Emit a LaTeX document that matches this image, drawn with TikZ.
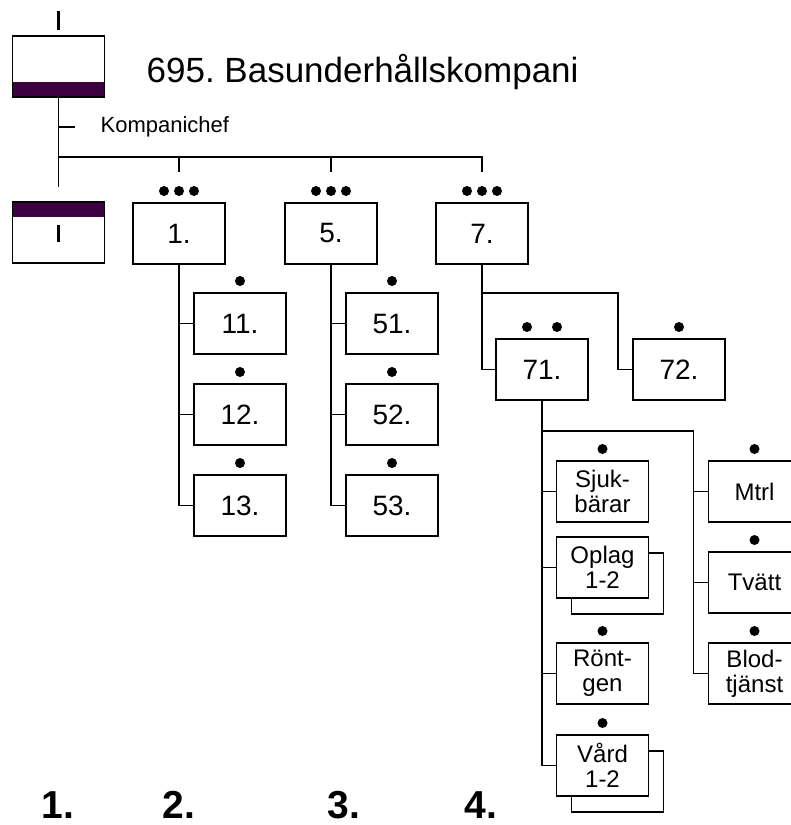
\documentclass[tikz,border=0pt]{standalone}
\usepackage{fontspec}
\setmainfont{Liberation Sans}
\usetikzlibrary{positioning,shadows}
\definecolor{myPurple}{RGB}{61,0,64}
\frenchspacing

\begin{document}
\begin{tikzpicture}[x=1pt,y=-1pt,line width=1.3pt,node distance=30pt,
  unit box/.style={rectangle,draw,fill=white,line width=1.8pt,minimum width=92pt,minimum height=61pt,
  inner sep=0pt,outer sep=0pt,font=\fontsize{28}{29}\selectfont},
  text box/.style={unit box,align=center,font=\fontsize{24}{25}\selectfont},
  double box/.style={text box,copy shadow={shadow xshift=15pt,shadow yshift=-16pt}},
  hq box/.style={unit box,path picture={\fill[myPurple] (path picture bounding box.south west)
  rectangle ([yshift=15pt]path picture bounding box.south east);}},
  staff box/.style={unit box,path picture={\fill[myPurple] (path picture bounding box.north west)
  rectangle ([yshift=-15pt]path picture bounding box.north east);}},
  bar/.style={line width=3pt},
  big number/.style={anchor=base,inner sep=0pt,font=\fontsize{39}{39}\selectfont\bfseries}]

  \useasboundingbox (0,0) rectangle (791,825);
  \clip (0,0) rectangle (791,825);

% Company HQ
  \node[hq box] (hq) at (58.5,66.5) {};
  \draw[bar] ([yshift=6pt]hq.north) -- ++(0,-19);
  \node[anchor=west,inner sep=0pt,font=\fontsize{35}{36}\selectfont] (title) at (146,72) {695. Basunderhållskompani};
  \node[anchor=west,inner sep=0pt,font=\fontsize{22}{22}\selectfont] (chef) at (100,127) {Kompanichef};
  \node[staff box] (staff) at (58.5,232.5) {};
  \draw[bar] ([yshift=-1pt]staff.center) ++(0,-8.5) -- ++(0,17);

% Platoons
  \node[unit box] (b1) at (179,233.5) {1.};
  \node[unit box] (b5) [right=60pt of b1] {5.};
  \node[unit box] (b7) [right=59pt of b5] {7.};

  \node[unit box] (b11) [below=29pt of b1,xshift=61pt] {11.};
  \node[unit box] (b12) [below=of b11] {12.};
  \node[unit box] (b13) [below=of b12] {13.};
  \node[unit box] (b51) [below=29pt of b5,xshift=61pt] {51.};
  \node[unit box] (b52) [below=of b51] {52.};
  \node[unit box] (b53) [below=of b52] {53.};

  \node[unit box] (b71) [below=75pt of b7,xshift=60pt] {71.};
  \node[unit box] (b72) [right=45pt of b71] {72.};

  \node[text box] (sjuk) [below=61pt of b71,xshift=60.5pt] {Sjuk-\\bärar};
  \node[double box] (oplag) [below=15pt of sjuk] {Oplag\\1-2};
  \node[text box] (rontgen) [below=45pt of oplag] {Rönt-\\gen};
  \node[double box] (vard) [below=31pt of rontgen] {Vård\\1-2};
  \node[text box] (mtrl) [right=60pt of sjuk] {Mtrl};
  \node[text box] (tvatt) [below=of mtrl] {Tvätt};
  \node[text box] (blod) [below=of tvatt] {Blod-\\tjänst};

% Strength dots
  \foreach \n in {b1,b5,b7}
    \foreach \dx in {-15,0,15}
      \fill ([xshift=\dx pt,yshift=12pt]\n.north) circle (5pt);
  \foreach \dx in {-15,15}
    \fill ([xshift=\dx pt,yshift=12pt]b71.north) circle (5pt);
  \foreach \n in {b11,b12,b13,b51,b52,b53,b72,sjuk,rontgen,vard,mtrl,tvatt,blod}
    \fill ([yshift=12pt]\n.north) circle (5pt);

% Lines
  \draw (hq.south) -- ++(0,90);
  \draw (hq.south |- chef) -- ++(16,0);
  \coordinate (bus) at (58,157);
  \draw (hq.south |- bus) -- (b7.north |- bus) -- ++(0,15);
  \foreach \n in {b1,b5}
    \draw (\n.north |- bus) -- ++(0,15);
  \foreach \n in {b11,b12,b13}
    \draw (b1.south) |- (\n.west);
  \foreach \n in {b51,b52,b53}
    \draw (b5.south) |- (\n.west);
  \draw (b7.south) |- (b71.west);
  \draw (b7.south) ++(0,29) -| ([xshift=-15pt]b72.west) -- (b72.west);
  \foreach \n in {sjuk,oplag,rontgen,vard}
    \draw (b71.south) |- (\n.west);
  \draw (b71.south) ++(0,31) -| ([xshift=-15pt]mtrl.west) -- (mtrl.west);
  \foreach \n in {tvatt,blod}
    \draw ([xshift=-15pt]mtrl.west) |- (\n.west);

% Columns
  \node[big number] (n1) at (58,818) {1.};
  \node[big number] (n2) at (179,818) {2.};
  \node[big number] (n3) at (344,818) {3.};
  \node[big number] (n4) at (481,818) {4.};
\end{tikzpicture}
\end{document}
